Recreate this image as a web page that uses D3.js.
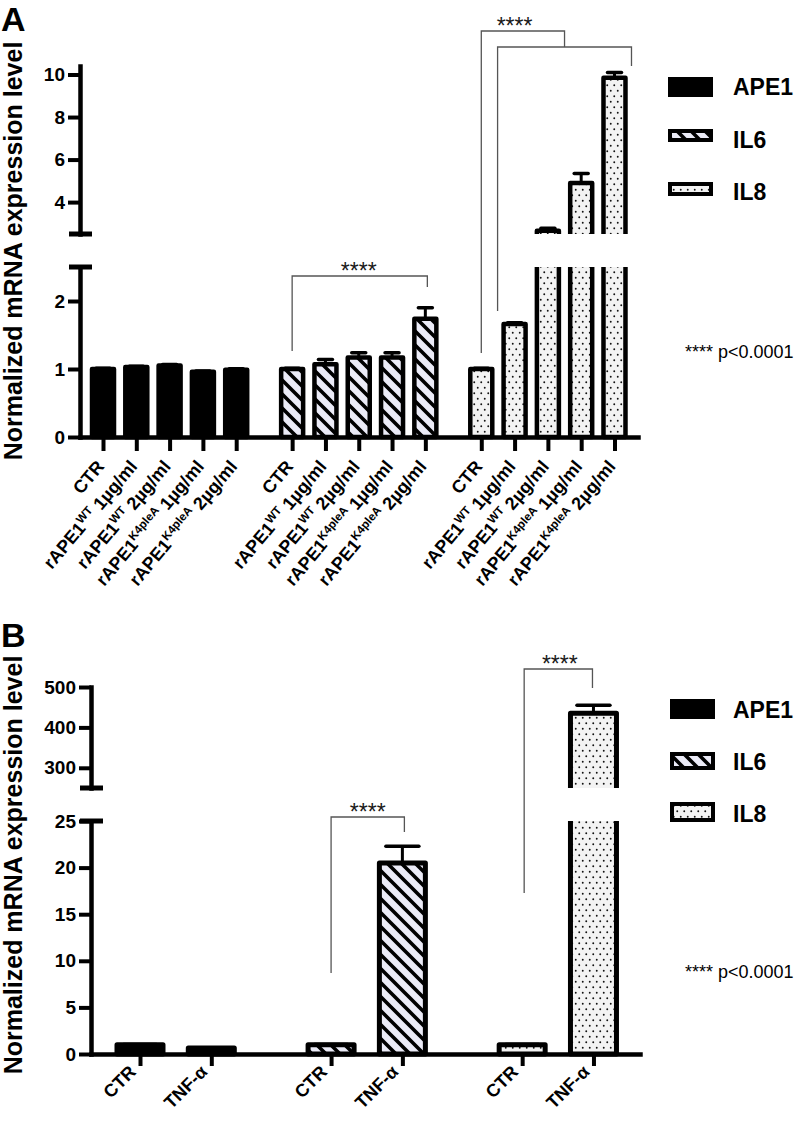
<!DOCTYPE html>
<html><head><meta charset="utf-8">
<script src="https://cdn.jsdelivr.net/npm/d3@7"></script>
<style>
body{margin:0;background:#fff}
svg{display:block}
text{font-family:"Liberation Sans",Arial,Helvetica,sans-serif}
</style>
</head><body>
<svg id="c" width="800" height="1126"></svg>
<script>
// ---------------- DATA ----------------
const seriesNames = ["APE1", "IL6", "IL8"];

// Panel A
const labelsA = [
  {base: "CTR"},
  {base: "rAPE1", sup: "WT", tail: " 1µg/ml"},
  {base: "rAPE1", sup: "WT", tail: " 2µg/ml"},
  {base: "rAPE1", sup: "K4pleA", tail: " 1µg/ml"},
  {base: "rAPE1", sup: "K4pleA", tail: " 2µg/ml"}
];
const ape1A    = [1.00, 1.03, 1.05, 0.96, 0.99];
const ape1AErr = [0.01, 0.01, 0.015, 0.01, 0.015];
const il6A     = [1.00, 1.07, 1.17, 1.17, 1.74];
const il6AErr  = [0.01, 0.07, 0.07, 0.07, 0.16];
const il8A     = [1.00, 1.66, 2.65, 4.90, 9.85];
const il8AErr  = [0.01, 0.02, 0.12, 0.45, 0.25];
const ticksALow  = [0, 1, 2];
const ticksAHigh = [4, 6, 8, 10];

// Panel B
const labelsB = [{base: "CTR"}, {base: "TNF-α"}];
const ape1B    = [1.00, 0.65];
const ape1BErr = [0.02, 0.02];
const il6B     = [1.00, 20.5];
const il6BErr  = [0.03, 1.8];
const il8B     = [1.00, 435];
const il8BErr  = [0.03, 20];
const ticksBLow  = [0, 5, 10, 15, 20, 25];
const ticksBHigh = [300, 400, 500];

const pLabel = "**** p<0.0001";
const yTitle = "Normalized mRNA expression level";

// ---------------- DRAW ----------------
const svg = d3.select("#c");
const defs = svg.append("defs");

const stripes = defs.append("pattern").attr("id", "stripes")
  .attr("patternUnits", "userSpaceOnUse").attr("width", 14).attr("height", 14);
stripes.append("rect").attr("width", 14).attr("height", 14).attr("fill", "#ebebf7");
stripes.append("path").attr("d", "M-2,-2L16,16M-2,12L2,16M12,-2L16,2")
  .attr("stroke", "#000").attr("stroke-width", 3.6);

const dots = defs.append("pattern").attr("id", "dots")
  .attr("patternUnits", "userSpaceOnUse").attr("width", 7).attr("height", 11);
dots.append("rect").attr("width", 7).attr("height", 11).attr("fill", "#f3f3f3");
dots.append("circle").attr("cx", 1.75).attr("cy", 2.75).attr("r", 0.95).attr("fill", "#111");
dots.append("circle").attr("cx", 5.25).attr("cy", 8.25).attr("r", 0.95).attr("fill", "#111");

const fills = ["#000", "url(#stripes)", "url(#dots)"];

function addLabel(sel, lab, x, y, angle, size) {
  const t = sel.append("text")
    .attr("transform", `translate(${x},${y}) rotate(${angle})`)
    .attr("text-anchor", "end").attr("font-weight", "bold")
    .attr("font-size", size);
  t.append("tspan").text(lab.base);
  if (lab.sup) {
    t.append("tspan").attr("font-size", size * 0.65).attr("dy", -size * 0.38).text(lab.sup);
    t.append("tspan").attr("dy", size * 0.38).text(lab.tail);
  }
}

function panel(p) {
  const g = svg.append("g");
  const yLo = d3.scaleLinear().domain(p.lo).range([p.axisY, p.loTop]);
  const yHi = d3.scaleLinear().domain(p.hi).range([p.hiBottom, p.hiTop]);
  const n = p.labels.length;
  const slot = (gi, i) => gi * (n + p.gap) + i;
  const x = d3.scaleLinear().domain([0, 1]).range([p.x0, p.x0 + p.step]);
  x.domain([x.invert(p.yAxisX), x.invert(p.xEnd)]).range([p.yAxisX, p.xEnd]);

  const cid = p.id;
  defs.append("clipPath").attr("id", cid + "lo").append("rect")
    .attr("x", 0).attr("y", p.loTop).attr("width", 800).attr("height", p.axisY - p.loTop + 30);
  defs.append("clipPath").attr("id", cid + "hi").append("rect")
    .attr("x", 0).attr("y", 0).attr("width", 800).attr("height", p.hiBottom);

  const gLo = g.append("g").attr("clip-path", `url(#${cid}lo)`);
  const gHi = g.append("g").attr("clip-path", `url(#${cid}hi)`);
  const gErr = g.append("g");

  const tickPos = [];
  p.series.forEach((s, gi) => {
    s.vals.forEach((v, i) => {
      const cx = x(slot(gi, i));
      tickPos.push(cx);
      const top = v > p.lo[1] ? yLo(p.lo[1]) - 10 : yLo(v);
      gLo.append("rect").attr("x", cx - p.barW / 2).attr("y", top)
        .attr("width", p.barW).attr("height", yLo(0) - top)
        .attr("fill", fills[gi]).attr("stroke", "#000").attr("stroke-width", p.sw)
        .attr("stroke-linejoin", "round");
      if (v > p.hi[0]) {
        gHi.append("rect").attr("x", cx - p.barW / 2).attr("y", yHi(v))
          .attr("width", p.barW).attr("height", yHi(p.hi[0]) + 10 - yHi(v))
          .attr("fill", fills[gi]).attr("stroke", "#000").attr("stroke-width", p.sw)
          .attr("stroke-linejoin", "round");
      }
      const ys = v > p.lo[1] ? yHi : yLo;
      const e = s.err[i];
      gErr.append("line").attr("x1", cx).attr("x2", cx)
        .attr("y1", ys(v)).attr("y2", ys(v + e))
        .attr("stroke", "#000").attr("stroke-width", 3);
      gErr.append("line").attr("x1", cx - p.capW / 2).attr("x2", cx + p.capW / 2)
        .attr("y1", ys(v + e)).attr("y2", ys(v + e))
        .attr("stroke", "#000").attr("stroke-width", 3.5).attr("stroke-linecap", "round");
    });
  });

  // axes
  const styleAxis = sel => {
    sel.select(".domain").attr("stroke", "#000").attr("stroke-width", 4.5).attr("stroke-linecap", "square");
    sel.selectAll(".tick line").attr("stroke", "#000").attr("stroke-width", 4);
    sel.selectAll(".tick text").attr("font-size", 19).attr("font-weight", "bold").attr("fill", "#000")
      .attr("font-family", '"Liberation Sans",Arial,sans-serif');
  };
  const fmt = d3.format("d");
  g.append("g").attr("transform", `translate(${p.yAxisX},0)`)
    .call(d3.axisLeft(yLo).tickValues(p.ticksLo).tickFormat(fmt).tickSize(12).tickSizeOuter(0).tickPadding(3))
    .call(styleAxis);
  g.append("g").attr("transform", `translate(${p.yAxisX},0)`)
    .call(d3.axisLeft(yHi).tickValues(p.ticksHi).tickFormat(fmt).tickSize(12).tickSizeOuter(0).tickPadding(3))
    .call(styleAxis);
  // break caps
  [yLo(p.lo[1]), yHi(p.hi[0])].forEach(yy => {
    g.append("line").attr("x1", p.yAxisX - 11).attr("x2", p.yAxisX + 12)
      .attr("y1", yy).attr("y2", yy).attr("stroke", "#000").attr("stroke-width", 5);
  });
  g.append("g").attr("transform", `translate(0,${p.axisY})`)
    .call(d3.axisBottom(x).tickValues(tickPos.map(t => x.invert(t))).tickSize(p.xTick).tickSizeOuter(0).tickFormat(""))
    .call(styleAxis);

  // x labels
  p.series.forEach((s, gi) => {
    p.labels.forEach((lab, i) => {
      const cx = x(slot(gi, i));
      addLabel(g, lab, cx + p.lblDx, p.axisY + p.lblDy, p.angle, p.lblSize);
    });
  });

  // brackets
  p.brackets.forEach(b => {
    g.append("path").attr("d", b.d(x, slot)).attr("fill", "none")
      .attr("stroke", "#555").attr("stroke-width", 1.3);
    const c = b.star(x, slot);
    g.append("text").attr("x", c[0]).attr("y", c[1]).attr("text-anchor", "middle")
      .attr("font-size", 23).attr("fill", "#1a1a1a").text("****");
  });

  // legend
  p.legend.forEach((L, k) => {
    g.append("rect").attr("x", L.r[0]).attr("y", L.r[1]).attr("width", L.r[2]).attr("height", L.r[3])
      .attr("fill", fills[k]).attr("stroke", "#000").attr("stroke-width", k === 0 ? 0 : 4);
    g.append("text").attr("x", 733).attr("y", L.ty).attr("font-size", 23).attr("font-weight", "bold")
      .text(seriesNames[k]);
  });
  g.append("text").attr("x", 685).attr("y", p.pY).attr("font-size", 18).text(pLabel);

  // panel letter and y title
  g.append("text").attr("x", 1).attr("y", p.letterY).attr("font-size", 34).attr("font-weight", "bold").text(p.letter);
  g.append("text").attr("transform", `translate(22,${p.titleY}) rotate(-90)`)
    .attr("text-anchor", "middle").attr("font-size", 25).attr("font-weight", "bold").text(yTitle);
}

panel({
  id: "A", letter: "A", letterY: 31, titleY: 251,
  yAxisX: 80, axisY: 437, xEnd: 638,
  lo: [0, 2.5], loTop: 267, hi: [2.5, 10.4], hiBottom: 234, hiTop: 66,
  ticksLo: ticksALow, ticksHi: ticksAHigh,
  x0: 103, step: 33.3, gap: 0.68, barW: 22, sw: 4.5, capW: 14, xTick: 14,
  labels: labelsA,
  series: [{vals: ape1A, err: ape1AErr}, {vals: il6A, err: il6AErr}, {vals: il8A, err: il8AErr}],
  angle: -50, lblDx: 2, lblDy: 30, lblSize: 18,
  brackets: [
    {d: (x, s) => `M${x(s(1,0))},351V276H${x(s(1,4)) + 2}V287`, star: (x, s) => [(x(s(1,0)) + x(s(1,4))) / 2, 279]},
    {d: (x, s) => `M${x(s(2,1)) - 17},311V47H${x(s(2,4)) + 17}V66M${x(s(2,0))},353V31H${(x(s(2,1)) + x(s(2,4))) / 2}V47`,
     star: (x, s) => [x(s(2,1)), 34]}
  ],
  legend: [{r: [668, 77, 45, 20], ty: 95}, {r: [670, 131, 41, 9], ty: 148}, {r: [670, 184, 41, 10], ty: 200}],
  pY: 358
});

panel({
  id: "B", letter: "B", letterY: 647, titleY: 865,
  yAxisX: 91, axisY: 1054, xEnd: 640,
  lo: [0, 25], loTop: 821, hi: [250, 500], hiBottom: 788, hiTop: 687,
  ticksLo: ticksBLow, ticksHi: ticksBHigh,
  x0: 140, step: 71.3, gap: 0.68, barW: 46, sw: 5, capW: 33, xTick: 12,
  labels: labelsB,
  series: [{vals: ape1B, err: ape1BErr}, {vals: il6B, err: il6BErr}, {vals: il8B, err: il8BErr}],
  angle: -45, lblDx: -3, lblDy: 19, lblSize: 18,
  brackets: [
    {d: (x, s) => `M${x(s(1,0))},973V817H${x(s(1,1)) + 2}V832`, star: (x, s) => [(x(s(1,0)) + x(s(1,1))) / 2 + 1, 820]},
    {d: (x, s) => `M${x(s(2,0)) + 2},893V669H${x(s(2,1)) - 1}V688`, star: (x, s) => [(x(s(2,0)) + x(s(2,1))) / 2 + 2, 672]}
  ],
  legend: [{r: [670, 699, 45, 20], ty: 718}, {r: [672, 754, 41, 14], ty: 770}, {r: [672, 804, 41, 16], ty: 822}],
  pY: 978
});
</script>
</body></html>
